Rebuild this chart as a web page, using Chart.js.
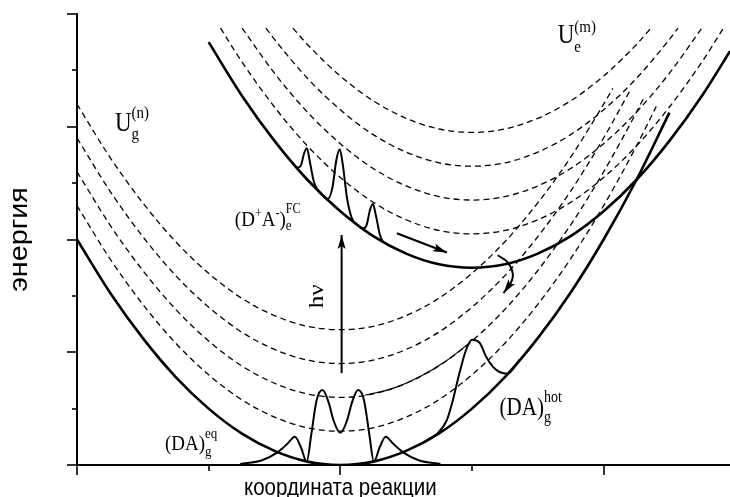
<!DOCTYPE html>
<html lang="ru">
<head>
    <meta charset="UTF-8">
    <title>Энергия - координата реакции</title>
    <script src="https://cdn.jsdelivr.net/npm/chart.js"></script>
    <style>
        html, body { margin: 0; padding: 0; background: #fff; }
        #wrap { width: 730px; height: 497px; position: relative; }
    </style>
</head>
<body>
<div id="wrap"><canvas id="chart"></canvas></div>
<script>
    // axis ticks (even values get the long tick)
    const xTicks = [0, 1, 2, 3, 4];
    const yTicks = [0, 1, 2, 3, 4, 5, 6, 7, 8];

    // ground state U_g (solid)
    const groundX = [0, 0.25, 0.5, 0.75, 1, 1.25, 1.5, 1.75, 2, 2.25, 2.5, 2.75, 3, 3.25, 3.5, 3.75, 4, 4.25, 4.5];
    const groundY = [4, 3.06, 2.25, 1.56, 1, 0.56, 0.25, 0.06, 0, 0.06, 0.25, 0.56, 1, 1.56, 2.25, 3.06, 4, 5.06, 6.25];

    // ground vibrational levels U_g^(n) (dashed)
    const gLev1X = [0, 0.25, 0.5, 0.75, 1, 1.25, 1.5, 1.75, 2, 2.25, 2.5, 2.75, 3, 3.25, 3.5, 3.75, 4, 4.25, 4.4];
    const gLev1Y = [4.6, 3.66, 2.85, 2.16, 1.6, 1.16, 0.85, 0.66, 0.6, 0.66, 0.85, 1.16, 1.6, 2.16, 2.85, 3.66, 4.6, 5.66, 6.36];
    const gLev2X = [0, 0.25, 0.5, 0.75, 1, 1.25, 1.5, 1.75, 2, 2.25, 2.5, 2.75, 3, 3.25, 3.5, 3.75, 4, 4.25, 4.3];
    const gLev2Y = [5.2, 4.26, 3.45, 2.76, 2.2, 1.76, 1.45, 1.26, 1.2, 1.26, 1.45, 1.76, 2.2, 2.76, 3.45, 4.26, 5.2, 6.26, 6.49];
    const gLev3X = [0, 0.25, 0.5, 0.75, 1, 1.25, 1.5, 1.75, 2, 2.25, 2.5, 2.75, 3, 3.25, 3.5, 3.75, 4, 4.2];
    const gLev3Y = [5.8, 4.86, 4.05, 3.36, 2.8, 2.36, 2.05, 1.86, 1.8, 1.86, 2.05, 2.36, 2.8, 3.36, 4.05, 4.86, 5.8, 6.64];
    const gLev4X = [0, 0.25, 0.5, 0.75, 1, 1.25, 1.5, 1.75, 2, 2.25, 2.5, 2.75, 3, 3.25, 3.5, 3.75, 4, 4.07];
    const gLev4Y = [6.4, 5.46, 4.65, 3.96, 3.4, 2.96, 2.65, 2.46, 2.4, 2.46, 2.65, 2.96, 3.4, 3.96, 4.65, 5.46, 6.4, 6.68];

    // part of the second level drawn solid (path to the hot packet)
    const hotPathX = [2.19, 2.4, 2.6, 2.8, 2.98];
    const hotPathY = [1.24, 1.36, 1.56, 1.84, 2.16];

    // excited state U_e (solid)
    const excX = [1.0, 1.25, 1.5, 1.75, 2, 2.25, 2.5, 2.75, 3, 3.25, 3.5, 3.75, 4, 4.25, 4.5, 4.75, 4.96];
    const excY = [7.5, 6.56, 5.75, 5.06, 4.5, 4.06, 3.75, 3.56, 3.5, 3.56, 3.75, 4.06, 4.5, 5.06, 5.75, 6.56, 7.34];

    // excited vibrational levels U_e^(m) (dashed)
    const eLev1X = [1.09, 1.25, 1.5, 1.75, 2, 2.25, 2.5, 2.75, 3, 3.25, 3.5, 3.75, 4, 4.25, 4.5, 4.75, 4.91];
    const eLev1Y = [7.75, 7.16, 6.35, 5.66, 5.1, 4.66, 4.35, 4.16, 4.1, 4.16, 4.35, 4.66, 5.1, 5.66, 6.35, 7.16, 7.75];
    const eLev2X = [1.254, 1.5, 1.75, 2, 2.25, 2.5, 2.75, 3, 3.25, 3.5, 3.75, 4, 4.25, 4.5, 4.746];
    const eLev2Y = [7.75, 6.95, 6.26, 5.7, 5.26, 4.95, 4.76, 4.7, 4.76, 4.95, 5.26, 5.7, 6.26, 6.95, 7.75];
    const eLev3X = [1.435, 1.5, 1.75, 2, 2.25, 2.5, 2.75, 3, 3.25, 3.5, 3.75, 4, 4.25, 4.5, 4.565];
    const eLev3Y = [7.75, 7.55, 6.86, 6.3, 5.86, 5.55, 5.36, 5.3, 5.36, 5.55, 5.86, 6.3, 6.86, 7.55, 7.75];
    const eLev4X = [1.64, 1.75, 2, 2.25, 2.5, 2.75, 3, 3.25, 3.5, 3.75, 4, 4.25, 4.36];
    const eLev4Y = [7.75, 7.46, 6.9, 6.46, 6.15, 5.96, 5.9, 5.96, 6.15, 6.46, 6.9, 7.46, 7.75];

    // (DA)g eq wave packet, on the axis
    const eqX = [1.24, 1.40, 1.52, 1.60, 1.655, 1.70, 1.745, 1.78, 1.82, 1.865, 1.91, 1.95, 2.0, 2.05, 2.09, 2.135, 2.18, 2.22, 2.255, 2.30, 2.345, 2.40, 2.48, 2.60, 2.76];
    const eqY = [0.02, 0.08, 0.22, 0.38, 0.50, 0.32, 0.06, 0.55, 1.15, 1.33, 1.12, 0.78, 0.57, 0.78, 1.12, 1.33, 1.15, 0.55, 0.06, 0.32, 0.50, 0.38, 0.22, 0.08, 0.02];

    // (DA)g hot wave packet, on the ground curve
    const hotX = [2.64, 2.73, 2.81, 2.855, 2.905, 2.955, 3.0, 3.06, 3.11, 3.16, 3.21, 3.27, 3.36];
    const hotY = [0.41, 0.54, 0.80, 1.15, 1.63, 2.04, 2.22, 2.16, 1.91, 1.74, 1.65, 1.62, 1.86];

    // Franck-Condon packets on the excited curve
    const fcX = [1.67, 1.70, 1.725, 1.746, 1.77, 1.80, 1.83, 1.87, 1.905, 1.94, 1.97, 1.996, 2.02, 2.05, 2.087, 2.13, 2.171, 2.20, 2.225, 2.247, 2.27, 2.30, 2.323];
    const fcY = [5.27, 5.31, 5.53, 5.62, 5.36, 5.02, 4.87, 4.78, 4.72, 4.92, 5.41, 5.60, 5.31, 4.75, 4.38, 4.26, 4.19, 4.26, 4.52, 4.63, 4.43, 4.09, 3.96];

    // arrows
    const hvX = [2.01, 2.01];
    const hvY = [1.63, 4.08];
    const slideX = [2.43, 2.81];
    const slideY = [4.11, 3.77];
    const turnX = [3.195, 3.27, 3.31, 3.295, 3.24];
    const turnY = [3.72, 3.60, 3.40, 3.23, 3.05];

    const SY = 1.15; // text of the source figure is a bit stretched vertically

    function pts(xs, ys) {
        return xs.map((x, i) => ({ x: x, y: ys[i] }));
    }

    function line(xs, ys, width, dashed, extra) {
        return Object.assign({
            data: pts(xs, ys),
            showLine: true,
            borderColor: '#000',
            backgroundColor: '#000',
            borderWidth: width,
            borderDash: dashed ? [6, 4] : [],
            pointRadius: 0,
            fill: false,
            cubicInterpolationMode: 'monotone'
        }, extra || {});
    }

    function drawRich(ctx, px, py, items, family) {
        let cx = px;
        items.forEach(it => {
            ctx.font = it.s + 'px ' + family;
            ctx.save();
            ctx.translate(cx, py + (it.dy || 0));
            ctx.scale(1, SY);
            ctx.fillText(it.t, 0, 0);
            ctx.restore();
            if (!it.stay) cx += ctx.measureText(it.t).width;
        });
    }

    const decorations = {
        id: 'decorations',
        afterDatasetsDraw(chart) {
            const ctx = chart.ctx;
            const xs = chart.scales.x, ys = chart.scales.y;
            const area = chart.chartArea;
            ctx.save();
            ctx.fillStyle = '#000';

            // arrow heads
            chart.data.datasets.forEach((ds, i) => {
                if (!ds.arrow) return;
                const p = chart.getDatasetMeta(i).data;
                const a = p[p.length - 2], b = p[p.length - 1];
                const ang = Math.atan2(b.y - a.y, b.x - a.x);
                const len = 14, half = 4;
                ctx.save();
                ctx.translate(b.x, b.y);
                ctx.rotate(ang);
                ctx.beginPath();
                ctx.moveTo(0, 0);
                ctx.lineTo(-len, -half);
                ctx.lineTo(-len + 3, 0);
                ctx.lineTo(-len, half);
                ctx.closePath();
                ctx.fill();
                ctx.restore();
            });

            // tick marks, outside the axes
            ctx.strokeStyle = '#000';
            ctx.lineWidth = 1.6;
            yTicks.forEach(v => {
                const py = Math.round(ys.getPixelForValue(v));
                const l = v % 2 === 0 ? 10 : 5;
                ctx.beginPath();
                ctx.moveTo(area.left - l, py);
                ctx.lineTo(area.left, py);
                ctx.stroke();
            });
            xTicks.forEach(v => {
                const px = Math.round(xs.getPixelForValue(v));
                const l = v % 2 === 0 ? 10 : 6;
                ctx.beginPath();
                ctx.moveTo(px, area.bottom);
                ctx.lineTo(px, area.bottom + l);
                ctx.stroke();
            });

            // labels inside the plot
            ctx.textBaseline = 'alphabetic';
            ctx.textAlign = 'left';
            const serif = '"Liberation Serif", "Times New Roman", serif';
            const at = (x, y) => [xs.getPixelForValue(x), ys.getPixelForValue(y)];
            let p;
            p = at(0.288, 5.92);
            drawRich(ctx, p[0], p[1], [{ t: 'U', s: 23 }, { t: 'g', s: 15, dy: 8, stay: true }, { t: '(n)', s: 15, dy: -13 }], serif);
            p = at(3.651, 7.48);
            drawRich(ctx, p[0], p[1], [{ t: 'U', s: 23 }, { t: 'e', s: 15, dy: 9, stay: true }, { t: '(m)', s: 15, dy: -11 }], serif);
            p = at(1.199, 4.24);
            drawRich(ctx, p[0], p[1], [{ t: '(D', s: 19 }, { t: '+', s: 12, dy: -9 }, { t: 'A', s: 19 }, { t: '-', s: 12, dy: -9 },
                { t: ')', s: 19 }, { t: 'e', s: 13, dy: 4, stay: true }, { t: 'FC', s: 12, dy: -13 }], serif);
            p = at(0.668, 0.266);
            drawRich(ctx, p[0], p[1], [{ t: '(DA)', s: 19 }, { t: 'g', s: 13, dy: 6, stay: true }, { t: 'eq', s: 13, dy: -12 }], serif);
            p = at(3.21, 0.887);
            drawRich(ctx, p[0], p[1], [{ t: '(DA)', s: 21 }, { t: 'g', s: 14, dy: 7, stay: true }, { t: 'hot', s: 14, dy: -13 }], serif);

            // h nu, rotated along the arrow
            p = at(1.867, 2.78);
            ctx.save();
            ctx.translate(p[0], p[1]);
            ctx.rotate(-Math.PI / 2);
            ctx.scale(SY, 1);
            ctx.font = '22px ' + serif;
            ctx.fillText('hν', 0, 0);
            ctx.restore();

            // axis titles
            const sans = '"Liberation Sans", Arial, sans-serif';
            ctx.textAlign = 'center';
            ctx.save();
            ctx.translate(area.left - 50, (area.top + area.bottom) / 2);
            ctx.rotate(-Math.PI / 2);
            ctx.scale(SY, 1);
            ctx.font = '25px ' + sans;
            ctx.fillText('энергия', 0, 0);
            ctx.restore();

            ctx.save();
            ctx.translate(xs.getPixelForValue(2), area.bottom + 30);
            ctx.scale(1, SY);
            ctx.font = '20.5px ' + sans;
            ctx.fillText('координата реакции', 0, 0);
            ctx.restore();

            ctx.restore();
        }
    };

    const ctx = document.getElementById('chart').getContext('2d');
    new Chart(ctx, {
        type: 'scatter',
        data: {
            datasets: [
                line(groundX, groundY, 2.6, false),
                line(excX, excY, 2.6, false),
                line(fcX, fcY, 2, false),
                line(eqX, eqY, 2, false),
                line(hotX, hotY, 2, false),
                line(hotPathX, hotPathY, 1.2, false),
                line(gLev1X, gLev1Y, 1.3, true),
                line(gLev2X, gLev2Y, 1.3, true),
                line(gLev3X, gLev3Y, 1.3, true),
                line(gLev4X, gLev4Y, 1.3, true),
                line(eLev1X, eLev1Y, 1.3, true),
                line(eLev2X, eLev2Y, 1.3, true),
                line(eLev3X, eLev3Y, 1.3, true),
                line(eLev4X, eLev4Y, 1.3, true),
                line(hvX, hvY, 2, false, { arrow: true }),
                line(slideX, slideY, 2, false, { arrow: true }),
                line(turnX, turnY, 2, false, { arrow: true, cubicInterpolationMode: 'default', tension: 0.4 })
            ]
        },
        options: {
            responsive: true,
            maintainAspectRatio: false,
            animation: false,
            layout: { padding: { top: 14, right: 0, left: 0, bottom: 0 } },
            plugins: {
                legend: { display: false },
                tooltip: { enabled: false }
            },
            scales: {
                x: {
                    type: 'linear',
                    min: 0,
                    max: 4.96,
                    ticks: { display: false },
                    grid: { display: false },
                    border: { display: true, color: '#000', width: 2 },
                    afterFit: s => { s.height = 32; }
                },
                y: {
                    type: 'linear',
                    min: 0,
                    max: 8,
                    ticks: { display: false },
                    grid: { display: false },
                    border: { display: true, color: '#000', width: 2 },
                    afterFit: s => { s.width = 77; }
                }
            }
        },
        plugins: [decorations]
    });
</script>
</body>
</html>
